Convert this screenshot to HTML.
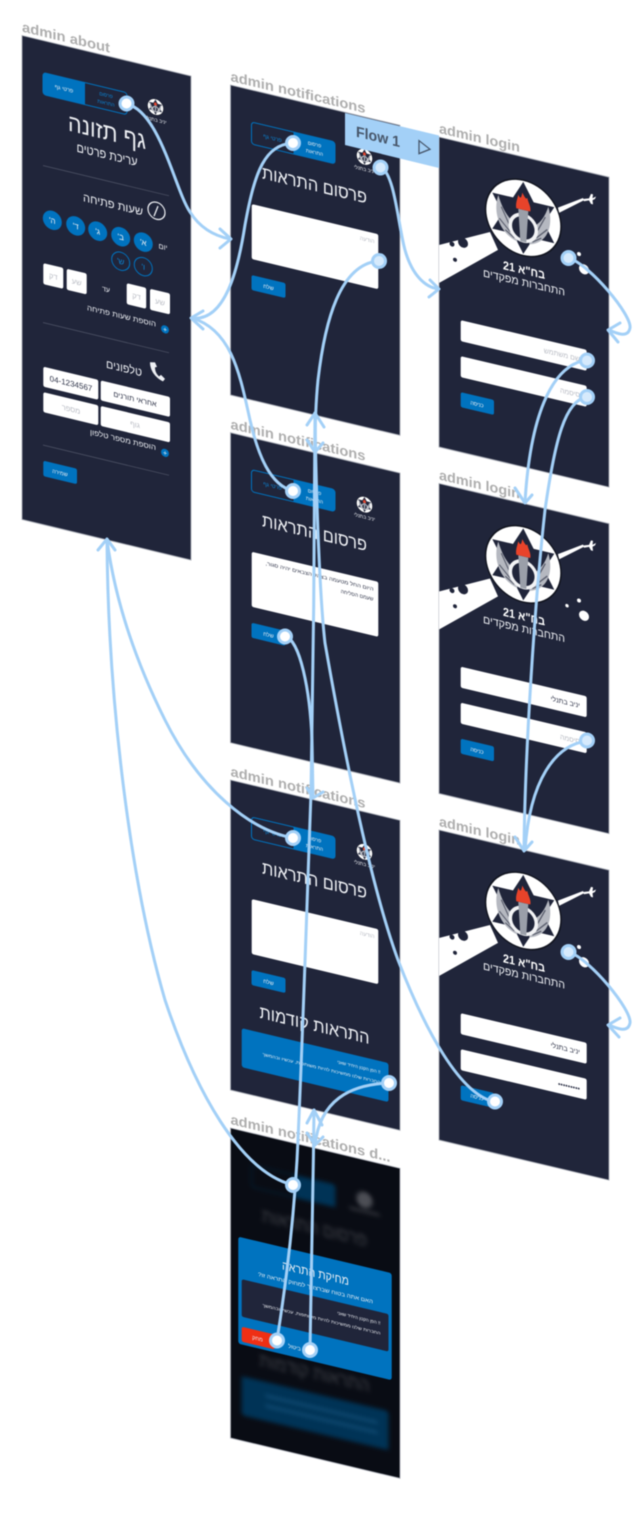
<!DOCTYPE html>
<html lang="he">
<head>
<meta charset="utf-8">
<title>Flow diagram</title>
<style>
html,body{margin:0;padding:0;background:#fff;}
body{width:644px;height:1537px;overflow:hidden;}
svg{display:block;filter:blur(.4px);}
text{font-family:"Liberation Sans","DejaVu Sans",sans-serif;}
.f{fill:#20253a;stroke:#a9adb6;stroke-width:.9;}
.lb{font-size:14px;font-weight:700;fill:#aeaeae;}
.r{direction:rtl;text-anchor:start;}
.m{direction:rtl;text-anchor:middle;}
.w{fill:#eef0f4;}
.b{fill:#0073bf;}
.c{fill:none;stroke:#a3d0f7;stroke-width:3;stroke-linecap:round;stroke-linejoin:round;}
.p{fill:#fff;stroke:#a3d0f7;stroke-width:3;}
.q{fill:#d6eafc;stroke:#a3d0f7;stroke-width:3;}
.g{fill:#b9bcc4;}
.d{fill:#30354a;}
.ln{stroke:#4b5063;stroke-width:.8;}
</style>
</head>
<body>
<svg width="644" height="1537" viewBox="0 0 644 1537" xmlns="http://www.w3.org/2000/svg">
<defs>
  <g id="emblem">
    <circle r="38.5" fill="#11141f"/>
    <circle r="37" fill="#fff"/>
    <polygon points="0,-36 31,18 -31,18" fill="#20253a"/>
    <polygon points="0,36 31,-18 -31,-18" fill="#20253a"/>
    <path d="M-6,25C-23,21 -31,2 -25,-17C-21,-4 -15,4 -7,8Z" fill="#b5b8c0"/>
    <path d="M6,25C23,21 31,2 25,-17C21,-4 15,4 7,8Z" fill="#b5b8c0"/>
    <path d="M-22,-6L-14,10M-24,6L-13,17M-18,16L-9,22M22,-6L14,10M24,6L13,17M18,16L9,22" stroke="#5a5e6d" stroke-width="1.200" fill="none"/>
    <circle cx="0" cy="10" r="13" fill="#20253a" stroke="#f2f3f5" stroke-width="3.500"/>
    <polygon points="-5,-8 5,-8 3,24 -3,24" fill="#9a9fa9"/>
    <path d="M-7,-8C-8,-13 -6,-17 -5,-22C-3,-18 -2,-19 -1,-25C2,-20 3,-19 4,-21C5,-16 8,-13 7,-8Z" fill="#e8432a"/>
  </g>
  <g id="wing">
    <polygon points="0,108 51,83 59,99 0,146" fill="#fff"/>
    <circle cx="24" cy="100" r="5" fill="#20253a"/>
    <circle cx="13" cy="104" r="2.500" fill="#20253a"/>
    <circle cx="16" cy="119" r="2" fill="#20253a"/>
    <polygon points="119,42.500 144,27 145,29 120,47.500" fill="#fff"/>
    <path d="M144,28L150,26L152,21L154,21L153.500,25L157,22.500L156,25L153.500,27L154,31L152,31L150,28L145,30Z" fill="#fff"/>
  </g>
</defs>

<!-- ADMIN ABOUT -->
<g transform="matrix(1 .24 0 1 22 35.5)">
  <text x="0" y="-4" class="lb" textLength="88" lengthAdjust="spacingAndGlyphs">admin about</text>
  <rect class="f" width="169" height="484"/>
  <rect x="21" y="32" width="84" height="22" rx="3" fill="none" stroke="#0073bf" stroke-width="1"/>
  <path d="M24,32H63V54H24a3,3 0 0 1-3-3V35a3,3 0 0 1 3-3Z" class="b"/>
  <text x="42" y="45" class="m w" font-size="5.5">פרטי גף</text>
  <text x="84" y="41" class="m" font-size="5" fill="#0a86d8">פרסום</text>
  <text x="84" y="49" class="m" font-size="5" fill="#0a86d8">התראות</text>
  <use href="#emblem" transform="translate(133.5 39.5) scale(.21)"/>
  <text x="134" y="54" class="m w" font-size="5">יניב בתנלי</text>
  <text x="85" y="84" class="m w" font-size="24" textLength="78" lengthAdjust="spacingAndGlyphs">גף תזונה</text>
  <text x="85" y="103" class="m w" font-size="12.5" textLength="61" lengthAdjust="spacingAndGlyphs">עריכת פרטים</text>
  <line x1="21" y1="125" x2="147" y2="125" class="ln"/>
  <circle cx="134.5" cy="143" r="8.5" fill="none" stroke="#eef0f4" stroke-width="1.2"/>
  <line x1="132" y1="149" x2="136" y2="138" stroke="#eef0f4" stroke-width="1.2"/>
  <text x="121" y="151" class="r w" font-size="11.5" textLength="60" lengthAdjust="spacingAndGlyphs">שעות פתיחה</text>
  <circle cx="121.3" cy="177.5" r="9.5" class="b"/><text x="121.3" y="180.5" class="m w" font-size="8">א'</text>
  <circle cx="98.7" cy="177.5" r="9.5" class="b"/><text x="98.7" y="180.5" class="m w" font-size="8">ב'</text>
  <circle cx="75.7" cy="177.5" r="9.5" class="b"/><text x="75.7" y="180.5" class="m w" font-size="8">ג'</text>
  <circle cx="53.7" cy="177.5" r="9.5" class="b"/><text x="53.7" y="180.5" class="m w" font-size="8">ד'</text>
  <circle cx="30.3" cy="177.5" r="9.5" class="b"/><text x="30.3" y="180.5" class="m w" font-size="8">ה'</text>
  <text x="141" y="180" class="m w" font-size="7.5">יום</text>
  <circle cx="121.3" cy="202" r="9" fill="none" stroke="#0073bf" stroke-width="1"/><text x="121.3" y="205" class="m" font-size="8" fill="#0a86d8">ו'</text>
  <circle cx="98.7" cy="202" r="9" fill="none" stroke="#0073bf" stroke-width="1"/><text x="98.7" y="205" class="m" font-size="8" fill="#0a86d8">ש'</text>
  <rect x="21.3" y="222.5" width="20" height="21" rx="2" fill="#fff"/><text x="31.3" y="236" class="m g" font-size="7.5">דק</text>
  <rect x="44.7" y="222.5" width="20" height="21" rx="2" fill="#fff"/><text x="54.7" y="236" class="m g" font-size="7.5">שע</text>
  <text x="84" y="236" class="m w" font-size="7">עד</text>
  <rect x="104.7" y="222.5" width="19.5" height="21" rx="2" fill="#fff"/><text x="114.5" y="236" class="m g" font-size="7.5">דק</text>
  <rect x="128" y="222.5" width="20" height="21" rx="2" fill="#fff"/><text x="138" y="236" class="m g" font-size="7.5">שע</text>
  <circle cx="143" cy="259.5" r="4" class="b"/><text x="143" y="262" class="m w" font-size="7">+</text>
  <text x="134" y="259" class="r w" font-size="7.5" textLength="69" lengthAdjust="spacingAndGlyphs">הוספת שעות פתיחה</text>
  <line x1="21" y1="282" x2="147" y2="282" class="ln"/>
  <path d="M128,296C128,304 133,310 141,312L143,309L139,306L137,308C134,306 133,303 133,300L135,299L133,295Z" fill="#eef0f4"/>
  <text x="120" y="312" class="r w" font-size="11.5" textLength="36" lengthAdjust="spacingAndGlyphs">טלפונים</text>
  <rect x="21.3" y="326" width="55" height="20" rx="2" fill="#fff"/>
  <text x="49" y="339" text-anchor="middle" font-size="8" fill="#30354a">04-1234567</text>
  <rect x="78.7" y="326" width="69.3" height="20" rx="2" fill="#fff"/>
  <text x="113" y="339" class="m d" font-size="7.5">אחראי תורנים</text>
  <rect x="21.3" y="351.5" width="55" height="20" rx="2" fill="#fff"/>
  <text x="49" y="364.5" class="m g" font-size="7.5">מספר</text>
  <rect x="78.7" y="351.5" width="69.3" height="20" rx="2" fill="#fff"/>
  <text x="113" y="364.5" class="m g" font-size="7.5">גוף</text>
  <circle cx="143" cy="383" r="4" class="b"/><text x="143" y="385.5" class="m w" font-size="7">+</text>
  <text x="134" y="382.5" class="r w" font-size="7.5" textLength="66" lengthAdjust="spacingAndGlyphs">הוספת מספר טלפון</text>
  <line x1="21" y1="404.5" x2="147" y2="404.5" class="ln"/>
  <rect x="21.3" y="420" width="33.7" height="15.5" rx="2" class="b"/>
  <text x="38" y="430" class="m w" font-size="5.5">שמירה</text>
</g>

<!-- NOTIFICATIONS 1 -->
<g transform="matrix(1 .238 0 1 230.5 85)">
  <text x="0" y="-4" class="lb" textLength="135" lengthAdjust="spacingAndGlyphs">admin notifications</text>
  <rect class="f" width="169.5" height="310"/>
  <rect x="21" y="32" width="83.5" height="22" rx="3" fill="none" stroke="#0073bf" stroke-width="1"/>
  <path d="M63,32H101.500a3,3 0 0 1 3,3V51a3,3 0 0 1-3,3H63Z" class="b"/>
  <text x="42" y="45" class="m" font-size="5.5" fill="#0a86d8">פרטי גף</text>
  <text x="84" y="41" class="m w" font-size="5">פרסום</text>
  <text x="84" y="49" class="m w" font-size="5">התראות</text>
  <use href="#emblem" transform="translate(134 40) scale(.21)"/>
  <text x="134" y="54" class="m w" font-size="5">יניב בתנלי</text>
  <text x="84" y="86" class="m w" font-size="18" textLength="105" lengthAdjust="spacingAndGlyphs">פרסום התראות</text>
  <rect x="21.200" y="114" width="126.600" height="55" rx="2" fill="#fff"/>
  <text x="144" y="124" class="r g" font-size="5.500">הודעה</text>
  <rect x="21" y="185" width="34" height="15" rx="2" class="b"/>
  <text x="38" y="195" class="m w" font-size="5.500">שלח</text>
</g>

<!-- NOTIFICATIONS 2 -->
<g transform="matrix(1 .238 0 1 230.5 432.700)">
  <text x="0" y="-4" class="lb" textLength="135" lengthAdjust="spacingAndGlyphs">admin notifications</text>
  <rect class="f" width="169.5" height="310"/>
  <rect x="21" y="32" width="83.5" height="22" rx="3" fill="none" stroke="#0073bf" stroke-width="1"/>
  <path d="M63,32H101.500a3,3 0 0 1 3,3V51a3,3 0 0 1-3,3H63Z" class="b"/>
  <text x="42" y="45" class="m" font-size="5.5" fill="#0a86d8">פרטי גף</text>
  <text x="84" y="41" class="m w" font-size="5">פרסום</text>
  <text x="84" y="49" class="m w" font-size="5">התראות</text>
  <use href="#emblem" transform="translate(134 40) scale(.21)"/>
  <text x="134" y="54" class="m w" font-size="5">יניב בתנלי</text>
  <text x="84" y="86" class="m w" font-size="18" textLength="105" lengthAdjust="spacingAndGlyphs">פרסום התראות</text>
  <rect x="21.200" y="114" width="126.600" height="55" rx="2" fill="#fff"/>
  <text x="143" y="124" class="r d" font-size="5.200" textLength="108" lengthAdjust="spacingAndGlyphs">היום החל מטעמה בצהל הצבאים יהיה סגור,</text>
  <text x="143" y="134" class="r d" font-size="5.200">שעמם הסליחה</text>
  <rect x="21" y="185" width="34" height="15" rx="2" class="b"/>
  <text x="38" y="195" class="m w" font-size="5.500">שלח</text>
</g>

<!-- NOTIFICATIONS 3 -->
<g transform="matrix(1 .238 0 1 230.5 780)">
  <text x="0" y="-4" class="lb" textLength="135" lengthAdjust="spacingAndGlyphs">admin notifications</text>
  <rect class="f" width="169.5" height="310"/>
  <rect x="21" y="32" width="83.5" height="22" rx="3" fill="none" stroke="#0073bf" stroke-width="1"/>
  <path d="M63,32H101.500a3,3 0 0 1 3,3V51a3,3 0 0 1-3,3H63Z" class="b"/>
  <text x="42" y="45" class="m" font-size="5.5" fill="#0a86d8">פרטי גף</text>
  <text x="84" y="41" class="m w" font-size="5">פרסום</text>
  <text x="84" y="49" class="m w" font-size="5">התראות</text>
  <use href="#emblem" transform="translate(134 40) scale(.21)"/>
  <text x="134" y="54" class="m w" font-size="5">יניב בתנלי</text>
  <text x="84" y="86" class="m w" font-size="18" textLength="105" lengthAdjust="spacingAndGlyphs">פרסום התראות</text>
  <rect x="21.200" y="114" width="126.600" height="55" rx="2" fill="#fff"/>
  <text x="144" y="124" class="r g" font-size="5.500">הודעה</text>
  <rect x="21" y="185" width="34" height="15" rx="2" class="b"/>
  <text x="38" y="195" class="m w" font-size="5.500">שלח</text>
  <text x="84" y="231" class="m w" font-size="18" textLength="110" lengthAdjust="spacingAndGlyphs">התראות קודמות</text>
  <rect x="11.200" y="245.500" width="146.800" height="39" rx="2.500" class="b"/>
  <text x="150" y="258" class="r w" font-size="4.500">!! הפן הקטן היחיד שאני</text>
  <text x="150" y="268" class="r w" font-size="4.200" textLength="118" lengthAdjust="spacingAndGlyphs">החברות שלנו ממשיכות להיות משותפות, עכשיו ובהמשך</text>
</g>

<!-- NOTIFICATIONS DELETE (dark) -->
<g transform="matrix(1 .238 0 1 230.5 1128)">
  <text x="0" y="-4" class="lb" textLength="160" lengthAdjust="spacingAndGlyphs">admin notifications d...</text>
  <rect width="169.5" height="310" fill="#090c14" stroke="#a9adb6" stroke-width=".9"/>
  <g style="filter:blur(2.2px)">
    <rect x="21" y="32" width="83.5" height="22" rx="3" fill="none" stroke="#00263f" stroke-width="1"/>
    <rect x="63" y="32" width="41.500" height="22" fill="#003356"/>
    <circle cx="134" cy="40" r="8" fill="#4c4e55"/>
    <rect x="119" y="50" width="30" height="3" fill="#2f3138"/>
    <text x="84" y="86" class="m" fill="#3e4047" font-size="18" textLength="105" lengthAdjust="spacingAndGlyphs">פרסום התראות</text>
    <text x="84" y="231" class="m" fill="#3e4047" font-size="18" textLength="110" lengthAdjust="spacingAndGlyphs">התראות קודמות</text>
    <rect x="11.200" y="245.500" width="146.800" height="39" rx="2.500" fill="#003356"/>
    <rect x="35" y="258" width="112" height="3" fill="#0f4a72"/>
    <rect x="35" y="268" width="112" height="3" fill="#0f4a72"/>
  </g>
  <rect x="7.800" y="106.800" width="153.400" height="107" rx="2.500" class="b"/>
  <text x="85" y="129" class="m w" font-size="12" textLength="67" lengthAdjust="spacingAndGlyphs">מחיקת התראה</text>
  <text x="85" y="141.500" class="m w" font-size="5.500" textLength="115" lengthAdjust="spacingAndGlyphs">האם אתה בטוח שברצונך למחוק התראה זו?</text>
  <rect x="11.200" y="148.500" width="146.800" height="37.500" rx="2" fill="#20253a"/>
  <text x="150" y="161" class="r w" font-size="4.500">!! הפן הקטן היחיד שאני</text>
  <text x="150" y="171" class="r w" font-size="4.200" textLength="118" lengthAdjust="spacingAndGlyphs">החברות שלנו ממשיכות להיות משותפות, עכשיו ובהמשך</text>
  <rect x="11.200" y="196" width="33" height="15" rx="2" fill="#ef2f14"/>
  <text x="27" y="206" class="m w" font-size="5.500">מחק</text>
  <text x="64" y="206" class="m w" font-size="5.500">ביטול</text>
</g>

<!-- LOGIN 1 -->
<g transform="matrix(1 .236 0 1 439 137)">
  <text x="0" y="-4" class="lb" textLength="81" lengthAdjust="spacingAndGlyphs">admin login</text>
  <rect class="f" width="170" height="310"/>
  <use href="#wing"/>
  <use href="#emblem" transform="translate(84.300 61)"/>
  <circle cx="140" cy="84" r="2" fill="#fff"/>
  <circle cx="128" cy="92" r="1.700" fill="#fff"/>
  <circle cx="145" cy="98" r="5" fill="#fff"/>
  <text x="85" y="117" class="m" fill="#fff" font-size="12" font-weight="700" textLength="42" lengthAdjust="spacingAndGlyphs">בח"א 21</text>
  <text x="85" y="129" class="m w" font-size="11" textLength="82" lengthAdjust="spacingAndGlyphs">התחברות מפקדים</text>
  <rect x="21.700" y="178" width="126" height="21" rx="2" fill="#fff"/>
  <text x="141" y="191" class="r g" font-size="7">שם משתמש</text>
  <rect x="21.700" y="214" width="126" height="21" rx="2" fill="#fff"/>
  <text x="141" y="227" class="r g" font-size="7">סיסמה</text>
  <rect x="21.700" y="250" width="33.300" height="15" rx="2" class="b"/>
  <text x="38" y="260" class="m w" font-size="5.500">כניסה</text>
</g>

<!-- LOGIN 2 -->
<g transform="matrix(1 .236 0 1 439 483.500)">
  <text x="0" y="-4" class="lb" textLength="81" lengthAdjust="spacingAndGlyphs">admin login</text>
  <rect class="f" width="170" height="310"/>
  <use href="#wing"/>
  <use href="#emblem" transform="translate(84.300 61)"/>
  <circle cx="140" cy="84" r="2" fill="#fff"/>
  <circle cx="128" cy="92" r="1.700" fill="#fff"/>
  <circle cx="145" cy="98" r="5" fill="#fff"/>
  <text x="85" y="117" class="m" fill="#fff" font-size="12" font-weight="700" textLength="42" lengthAdjust="spacingAndGlyphs">בח"א 21</text>
  <text x="85" y="129" class="m w" font-size="11" textLength="82" lengthAdjust="spacingAndGlyphs">התחברות מפקדים</text>
  <rect x="21.700" y="178" width="126" height="21" rx="2" fill="#fff"/>
  <text x="141" y="191" class="r d" font-size="7">יניב בתנלי</text>
  <rect x="21.700" y="214" width="126" height="21" rx="2" fill="#fff"/>
  <text x="141" y="227" class="r g" font-size="7">סיסמה</text>
  <rect x="21.700" y="250" width="33.300" height="15" rx="2" class="b"/>
  <text x="38" y="260" class="m w" font-size="5.500">כניסה</text>
</g>

<!-- LOGIN 3 -->
<g transform="matrix(1 .236 0 1 439 830)">
  <text x="0" y="-4" class="lb" textLength="81" lengthAdjust="spacingAndGlyphs">admin login</text>
  <rect class="f" width="170" height="310"/>
  <use href="#wing"/>
  <use href="#emblem" transform="translate(84.300 61)"/>
  <circle cx="140" cy="84" r="2" fill="#fff"/>
  <circle cx="128" cy="92" r="1.700" fill="#fff"/>
  <circle cx="145" cy="98" r="5" fill="#fff"/>
  <text x="85" y="117" class="m" fill="#fff" font-size="12" font-weight="700" textLength="42" lengthAdjust="spacingAndGlyphs">בח"א 21</text>
  <text x="85" y="129" class="m w" font-size="11" textLength="82" lengthAdjust="spacingAndGlyphs">התחברות מפקדים</text>
  <rect x="21.700" y="178" width="126" height="21" rx="2" fill="#fff"/>
  <text x="141" y="191" class="r d" font-size="7">יניב בתנלי</text>
  <rect x="21.700" y="214" width="126" height="21" rx="2" fill="#fff"/>
  <text x="141" y="228" class="r d" font-size="7">•••••••••</text>
  <rect x="21.700" y="250" width="33.300" height="15" rx="2" class="b"/>
  <text x="38" y="260" class="m w" font-size="5.500">כניסה</text>
</g>

<!-- FLOW LABEL -->
<polygon points="345,113 439,135.500 439,168 345,145" fill="#a3d0f7"/>
<g transform="matrix(1 .238 0 1 345 113)">
  <text x="11" y="21" font-size="15" font-weight="700" fill="#47566a" textLength="44" lengthAdjust="spacingAndGlyphs">Flow 1</text>
  <polygon points="74,10 85,16 74,23" fill="none" stroke="#47566a" stroke-width="1.300"/>
</g>

<!-- CONNECTORS -->
<g class="c">
  <path d="M127,104C160,112 175,190 190,212C200,228 215,236 230,239"/>
  <polyline points="220,229 231,239 220,248"/>
  <path d="M293,143C265,145 255,170 245,225C238,270 225,322 192,318"/>
  <path d="M293,491C270,485 258,455 250,420C240,375 232,330 192,318"/>
  <polyline points="203,311 191,318 203,329"/>
  <path d="M293,838C250,830 200,790 165,720C135,660 115,600 107,540"/>
  <path d="M293,1185C240,1172 195,1090 165,1000C130,880 108,700 107,540"/>
  <polyline points="98,550 107,539 115,550"/>
  <path d="M378,261C340,265 325,320 318,380C316,400 315,430 315,451"/>
  <polyline points="307,440 315,452 323,443"/>
  <path d="M277,1340C285,1290 293,1230 297,1160C302,1060 306,930 311,793C313,700 315,500 315,413"/>
  <path d="M495,1102C460,1095 425,1030 398,960C365,870 335,700 325,643C320,600 316,500 315,413"/>
  <polyline points="307,425 315,413 324,427"/>
  <path d="M285,636C300,640 310,690 312,740L313,797"/>
  <polyline points="307,788 313,798 323,792"/>
  <path d="M310,1350C311,1300 313,1200 314,1110"/>
  <polyline points="307,1123 314,1110 322,1125"/>
  <path d="M388,1083C350,1085 320,1100 315,1145"/>
  <polyline points="307,1133 315,1145 323,1137"/>
  <path d="M381,167C395,175 398,225 405,250C412,275 425,287 438,289"/>
  <polyline points="430,280 439,289 429,297"/>
  <path d="M569,258C590,265 632,315 630,328C628,338 618,334 609,330"/>
  <polyline points="620,323 608,330 618,342"/>
  <path d="M587,360C550,365 530,420 525,502"/>
  <polyline points="515,488 525,503 532,495"/>
  <path d="M587,397C565,400 555,440 545,510C535,600 525,750 524,850"/>
  <path d="M587,741C555,745 530,780 525,850"/>
  <polyline points="515,837 524,851 532,842"/>
  <path d="M569,952C590,959 632,1010 630,1023C628,1033 618,1029 609,1025"/>
  <polyline points="620,1018 608,1025 619,1037"/>
</g>
<circle cx="126.500" cy="103.500" r="6.500" class="p"/>
<circle cx="293" cy="143" r="6.500" class="p"/>
<circle cx="293" cy="491" r="6.500" class="p"/>
<circle cx="293" cy="838" r="6.500" class="p"/>
<circle cx="293" cy="1185" r="6.500" class="p"/>
<circle cx="277" cy="1340.500" r="6.500" class="p"/>
<circle cx="310" cy="1350" r="6.500" class="p"/>
<circle cx="389" cy="1083" r="6.500" class="p"/>
<circle cx="285" cy="636.500" r="6.500" class="p"/>
<circle cx="380.500" cy="167.500" r="6.500" class="q"/>
<circle cx="379" cy="261" r="6.500" class="q"/>
<circle cx="568.500" cy="258" r="6.500" class="q"/>
<circle cx="587" cy="360.500" r="6.500" class="q"/>
<circle cx="587" cy="397" r="6.500" class="q"/>
<circle cx="587" cy="740.500" r="6.500" class="q"/>
<circle cx="568.500" cy="952" r="6.500" class="q"/>
<circle cx="495" cy="1101.500" r="6.500" class="p"/>
</svg>
</body>
</html>
